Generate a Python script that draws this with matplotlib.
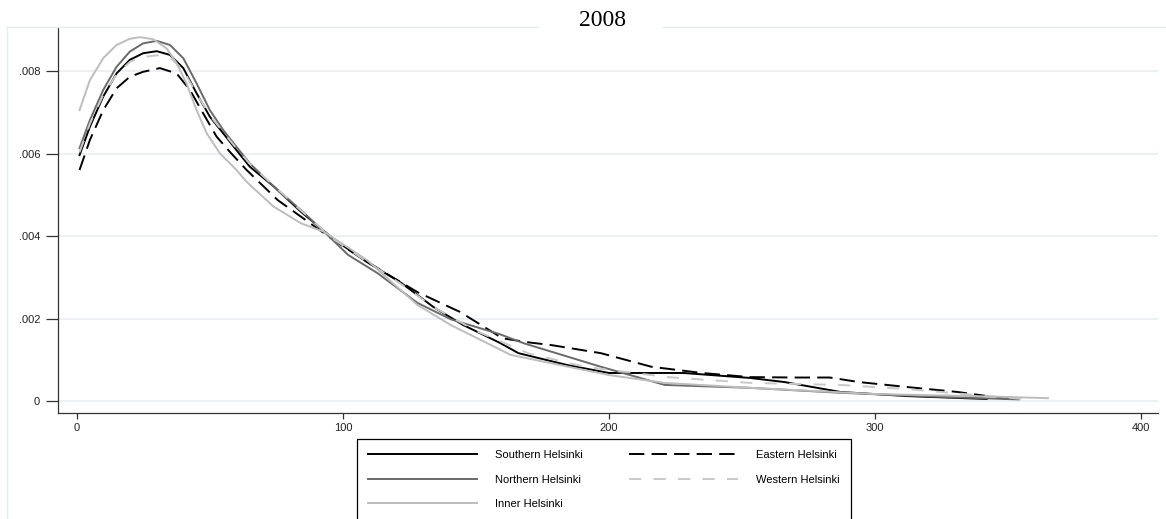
import matplotlib
matplotlib.use("Agg")
import matplotlib.pyplot as plt
from matplotlib.lines import Line2D

# density curves
south_x = [1, 4.9, 9.9, 14.9, 19.9, 24.9, 30, 35, 40, 45, 50, 55, 60, 65, 74, 84.2, 97, 109, 122,
           134, 145, 159, 166, 184.5, 200, 228, 253, 266, 287, 312, 342]
south_y = [.00596, .00665, .00738, .00794, .00827, .00843, .00848, .00839, .00807, .00746, .00689,
           .00649, .00608, .00568, .0052, .00459, .0039, .00337, .00286, .00228, .00185, .00141,
           .00116, .00087, .00068, .00068, .00056, .00046, .00022, .00012, .00005]

north_x = [1, 4.9, 9.9, 14.9, 19.9, 24.9, 30, 35, 40, 45, 50, 55, 60, 65, 74, 84.2, 93, 102, 113,
           128, 140.6, 159, 168, 197, 221, 253, 287, 325, 354]
north_y = [.00613, .00681, .00754, .0081, .00847, .00867, .00873, .00863, .00831, .0077, .00705,
           .00657, .00616, .00576, .0052, .00463, .0041, .00354, .0031, .00238, .00198, .00162,
           .0014, .00083, .00039, .00032, .0002, .0001, .00004]

inner_x = [1, 4.9, 9.9, 14.9, 19.9, 23.7, 28.7, 33.7, 37.5, 41.2, 45, 48.8, 53.8, 60, 64, 74, 84.2,
           93, 109, 128, 140.6, 163, 178, 200, 221, 253, 300, 337, 365]
inner_y = [.00705, .00778, .00831, .00863, .00878, .00882, .00877, .00855, .00819, .0077, .00705,
           .00649, .006, .0056, .0053, .00471, .00431, .0041, .00342, .00233, .00184, .00112,
           .00092, .00063, .00044, .00032, .00017, .00012, .00007]

east_x = [1, 4.9, 9.9, 14.9, 19.9, 24.9, 31.2, 37.5, 42.5, 47.5, 52.5, 57.5, 63.8, 75.5, 84.2, 97,
          114, 128, 144, 160, 170, 178, 197, 216, 235, 253, 270, 283, 294, 312, 331, 350]
east_y = [.0056, .00633, .00705, .00758, .00786, .00798, .00807, .00794, .00754, .00697, .00641,
          .00604, .0056, .00487, .00447, .00388, .00318, .00264, .00216, .00152, .00142, .00136,
          .00116, .00083, .00068, .00058, .00057, .00057, .00046, .00034, .00022, .00005]

west_x = [1, 4.9, 9.9, 14.9, 19.9, 24.9, 30.3, 35.3, 40, 45, 50, 55, 60, 65, 74, 84.2, 97, 109,
          122, 134, 150, 170, 191, 222, 253, 287, 312, 337, 356]
west_y = [.00603, .00672, .00742, .00792, .00822, .00834, .00838, .00831, .00802, .00745, .00692,
          .00652, .00612, .00575, .00522, .00462, .0039, .00338, .00283, .00228, .0017, .00115,
          .00083, .00058, .00044, .00039, .00029, .00015, .00005]

y_ticks = [0, .002, .004, .006, .008]
y_tick_labels = ["0", ".002", ".004", ".006", ".008"]
x_ticks = [0, 100, 200, 300, 400]
title = "2008"

plt.rcParams['font.family'] = ['Liberation Sans', 'DejaVu Sans']

fig = plt.figure(figsize=(11.66, 5.19), dpi=100)
W, H = 1166.0, 519.0
ax = fig.add_axes([58 / W, 1 - 413 / H, 1100 / W, 385 / H])

# light outer frame (top line broken by the title)
frame_col = "#e4ecee"
fig.add_artist(Line2D([7 / W, 7 / W], [0, 1 - 27 / H], color=frame_col, lw=1))
fig.add_artist(Line2D([7 / W, 538 / W], [1 - 27 / H] * 2, color=frame_col, lw=1))
fig.add_artist(Line2D([663 / W, 1 - 1 / W], [1 - 27 / H] * 2, color=frame_col, lw=1))
fig.text(602 / W, 1 - 21 / H, title, ha="center", va="center",
         family=["Liberation Serif", "DejaVu Serif"], fontsize=17)

lw = 1.4
l_s, = ax.plot(south_x, south_y, color="black", lw=lw, label="Southern Helsinki")
l_e, = ax.plot(east_x, east_y, color="black", lw=lw, ls=(0, (7.9, 3.7)), label="Eastern Helsinki")
l_n, = ax.plot(north_x, north_y, color="#6a6a6a", lw=lw, label="Northern Helsinki")
l_w, = ax.plot(west_x, west_y, color="#c8c8c8", lw=lw, ls=(0, (6.3, 6.3)), label="Western Helsinki")
l_i, = ax.plot(inner_x, inner_y, color="#bdbdbd", lw=lw, label="Inner Helsinki")

ax.set_xlim(-7.1, 406.4)
ax.set_ylim(-0.00029, 0.009042)
ax.set_yticks(y_ticks)
ax.set_yticklabels(y_tick_labels)
ax.set_xticks(x_ticks)
ax.grid(axis="y", color="#e8f0f2", lw=1.3)
ax.set_axisbelow(True)
for s in ["top", "right"]:
    ax.spines[s].set_visible(False)
for s in ["left", "bottom"]:
    ax.spines[s].set_color("#333333")
    ax.spines[s].set_linewidth(0.9)
ax.tick_params(axis="y", length=8.6, width=0.9, pad=4.3, colors="#333333", labelsize=8,
               labelcolor="#222222")
ax.tick_params(axis="x", length=4.3, width=0.9, pad=3.2, colors="#333333", labelsize=8,
               labelcolor="#222222")

leg = fig.legend([l_s, l_n, l_i, l_e, l_w],
                 [l.get_label() for l in [l_s, l_n, l_i, l_e, l_w]],
                 ncol=2, loc="upper left", bbox_to_anchor=(357 / W, 1 - 439 / H),
                 bbox_transform=fig.transFigure, borderaxespad=0, fontsize=8,
                 handlelength=9.8, handletextpad=1.6, columnspacing=4.2,
                 borderpad=1.0, labelspacing=1.3, fancybox=False, framealpha=1)
leg.get_frame().set_edgecolor("black")
leg.get_frame().set_linewidth(0.9)

fig.savefig("out.png", dpi=100)
